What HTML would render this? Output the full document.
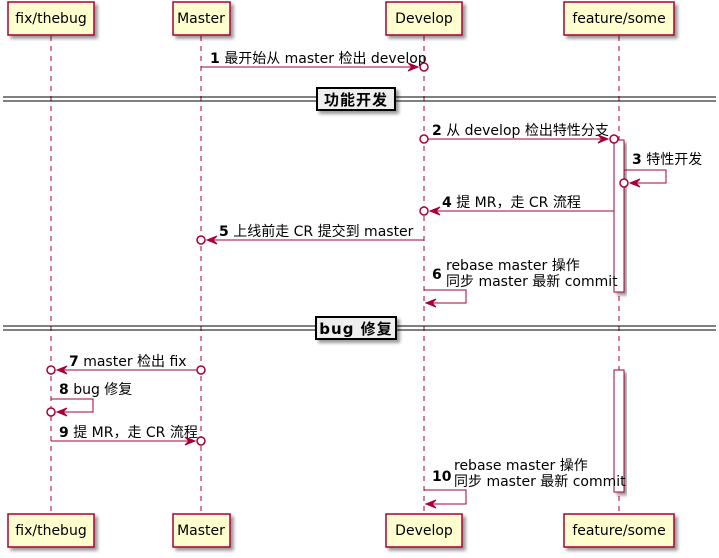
<!DOCTYPE html>
<html><head><meta charset="utf-8">
<style>
html,body{margin:0;padding:0;background:#fff;}
svg{display:block;}
text{font-family:"DejaVu Sans","Noto Sans CJK SC",sans-serif;font-size:14px;fill:#000;}
.b{font-weight:bold;}
.p{font-size:14px;text-anchor:middle;}
.d{font-size:15px;font-weight:bold;text-anchor:middle;letter-spacing:1px;}
</style></head>
<body>
<svg width="719" height="558" viewBox="0 0 719 558" xmlns="http://www.w3.org/2000/svg">
<defs>
<filter id="sh" x="-20%" y="-20%" width="150%" height="160%"><feGaussianBlur in="SourceAlpha" stdDeviation="1.5"/><feOffset dx="3" dy="3"/><feComponentTransfer><feFuncA type="linear" slope="0.4"/></feComponentTransfer><feMerge><feMergeNode/><feMergeNode in="SourceGraphic"/></feMerge></filter>
</defs>
<g stroke="#A80036" stroke-width="1" stroke-dasharray="5,5">
<line x1="51" y1="36" x2="51" y2="514"/>
<line x1="201" y1="36" x2="201" y2="514"/>
<line x1="424" y1="36" x2="424" y2="514"/>
<line x1="619" y1="36" x2="619" y2="514"/>
</g>
<g fill="#fff" stroke="#A80036" filter="url(#sh)">
<rect x="614" y="140" width="10" height="152"/>
<rect x="614" y="370" width="10" height="122"/>
</g>
<g fill="#FEFECE" stroke="#A80036" stroke-width="1.5" filter="url(#sh)">
<rect x="8" y="2" width="86" height="33"/>
<rect x="173" y="2" width="57" height="33"/>
<rect x="386" y="2" width="76" height="33"/>
<rect x="564" y="2" width="110" height="33"/>
<rect x="8" y="514" width="86" height="33"/>
<rect x="173" y="514" width="57" height="33"/>
<rect x="386" y="514" width="76" height="33"/>
<rect x="564" y="514" width="110" height="33"/>
</g>
<text x="51" y="23" class="p">fix/thebug</text>
<text x="201" y="23" class="p">Master</text>
<text x="424" y="23" class="p">Develop</text>
<text x="619" y="23" class="p">feature/some</text>
<text x="51" y="535" class="p">fix/thebug</text>
<text x="201" y="535" class="p">Master</text>
<text x="424" y="535" class="p">Develop</text>
<text x="619" y="535" class="p">feature/some</text>
<g stroke="#000" stroke-width="1">
<line x1="3" y1="97" x2="716" y2="97"/><line x1="3" y1="101" x2="716" y2="101"/>
<line x1="3" y1="326" x2="716" y2="326"/><line x1="3" y1="330" x2="716" y2="330"/>
</g>
<g fill="#EEEEEE" stroke="#000" stroke-width="2" filter="url(#sh)">
<rect x="317" y="88" width="78" height="22"/>
<rect x="316" y="317" width="80" height="22"/>
</g>
<text x="356" y="105" class="d">功能开发</text>
<text x="356" y="334" class="d">bug 修复</text>

<g stroke="#A80036" stroke-width="1" fill="none">
<line x1="201" y1="67" x2="416" y2="67"/>
<line x1="428" y1="139" x2="606" y2="139"/>
<polyline points="624,170 666,170 666,183 632,183"/>
<line x1="614" y1="211" x2="432" y2="211"/>
<line x1="424" y1="240" x2="209" y2="240"/>
<polyline points="424,290 466,290 466,303 426,303"/>
<line x1="197" y1="370" x2="59" y2="370"/>
<polyline points="51,399 93,399 93,412 59,412"/>
<line x1="51" y1="441" x2="193" y2="441"/>
<polyline points="424,490 466,490 466,504 426,504"/>
</g>
<g fill="#A80036" stroke="#A80036">
<polygon points="418,67 408,63 412,67 408,71"/>
<polygon points="608,139 598,135 602,139 598,143"/>
<polygon points="630,183 640,179 636,183 640,187"/>
<polygon points="430,211 440,207 436,211 440,215"/>
<polygon points="207,240 217,236 213,240 217,244"/>
<polygon points="426,303 436,299 432,303 436,307"/>
<polygon points="57,370 67,366 63,370 67,374"/>
<polygon points="57,412 67,408 63,412 67,416"/>
<polygon points="195,441 185,437 189,441 185,445"/>
<polygon points="426,504 436,500 432,504 436,508"/>
</g>
<g fill="#fff" stroke="#A80036" stroke-width="1.5">
<circle cx="424" cy="67" r="4"/>
<circle cx="424" cy="139" r="4"/>
<circle cx="614" cy="139" r="4"/>
<circle cx="624" cy="183" r="4"/>
<circle cx="424" cy="211" r="4"/>
<circle cx="201" cy="240" r="4"/>
<circle cx="201" cy="370" r="4"/>
<circle cx="51" cy="370" r="4"/>
<circle cx="51" cy="412" r="4"/>
<circle cx="201" cy="441" r="4"/>
</g>
<text x="210" y="63"><tspan class="b">1</tspan> 最开始从 master 检出 develop</text>
<text x="432" y="135"><tspan class="b">2</tspan> 从 develop 检出特性分支</text>
<text x="632" y="164"><tspan class="b">3</tspan> 特性开发</text>
<text x="442" y="207"><tspan class="b">4</tspan> 提 MR，走 CR 流程</text>
<text x="219" y="236"><tspan class="b">5</tspan> 上线前走 CR 提交到 master</text>
<text x="432" y="279" class="b">6</text>
<text x="446" y="270">rebase master 操作</text>
<text x="446" y="286">同步 master 最新 commit</text>
<text x="69" y="366"><tspan class="b">7</tspan> master 检出 fix</text>
<text x="59" y="394"><tspan class="b">8</tspan> bug 修复</text>
<text x="59" y="437"><tspan class="b">9</tspan> 提 MR，走 CR 流程</text>
<text x="432" y="481" class="b">10</text>
<text x="454" y="470">rebase master 操作</text>
<text x="454" y="486">同步 master 最新 commit</text>
</svg>
</body></html>
